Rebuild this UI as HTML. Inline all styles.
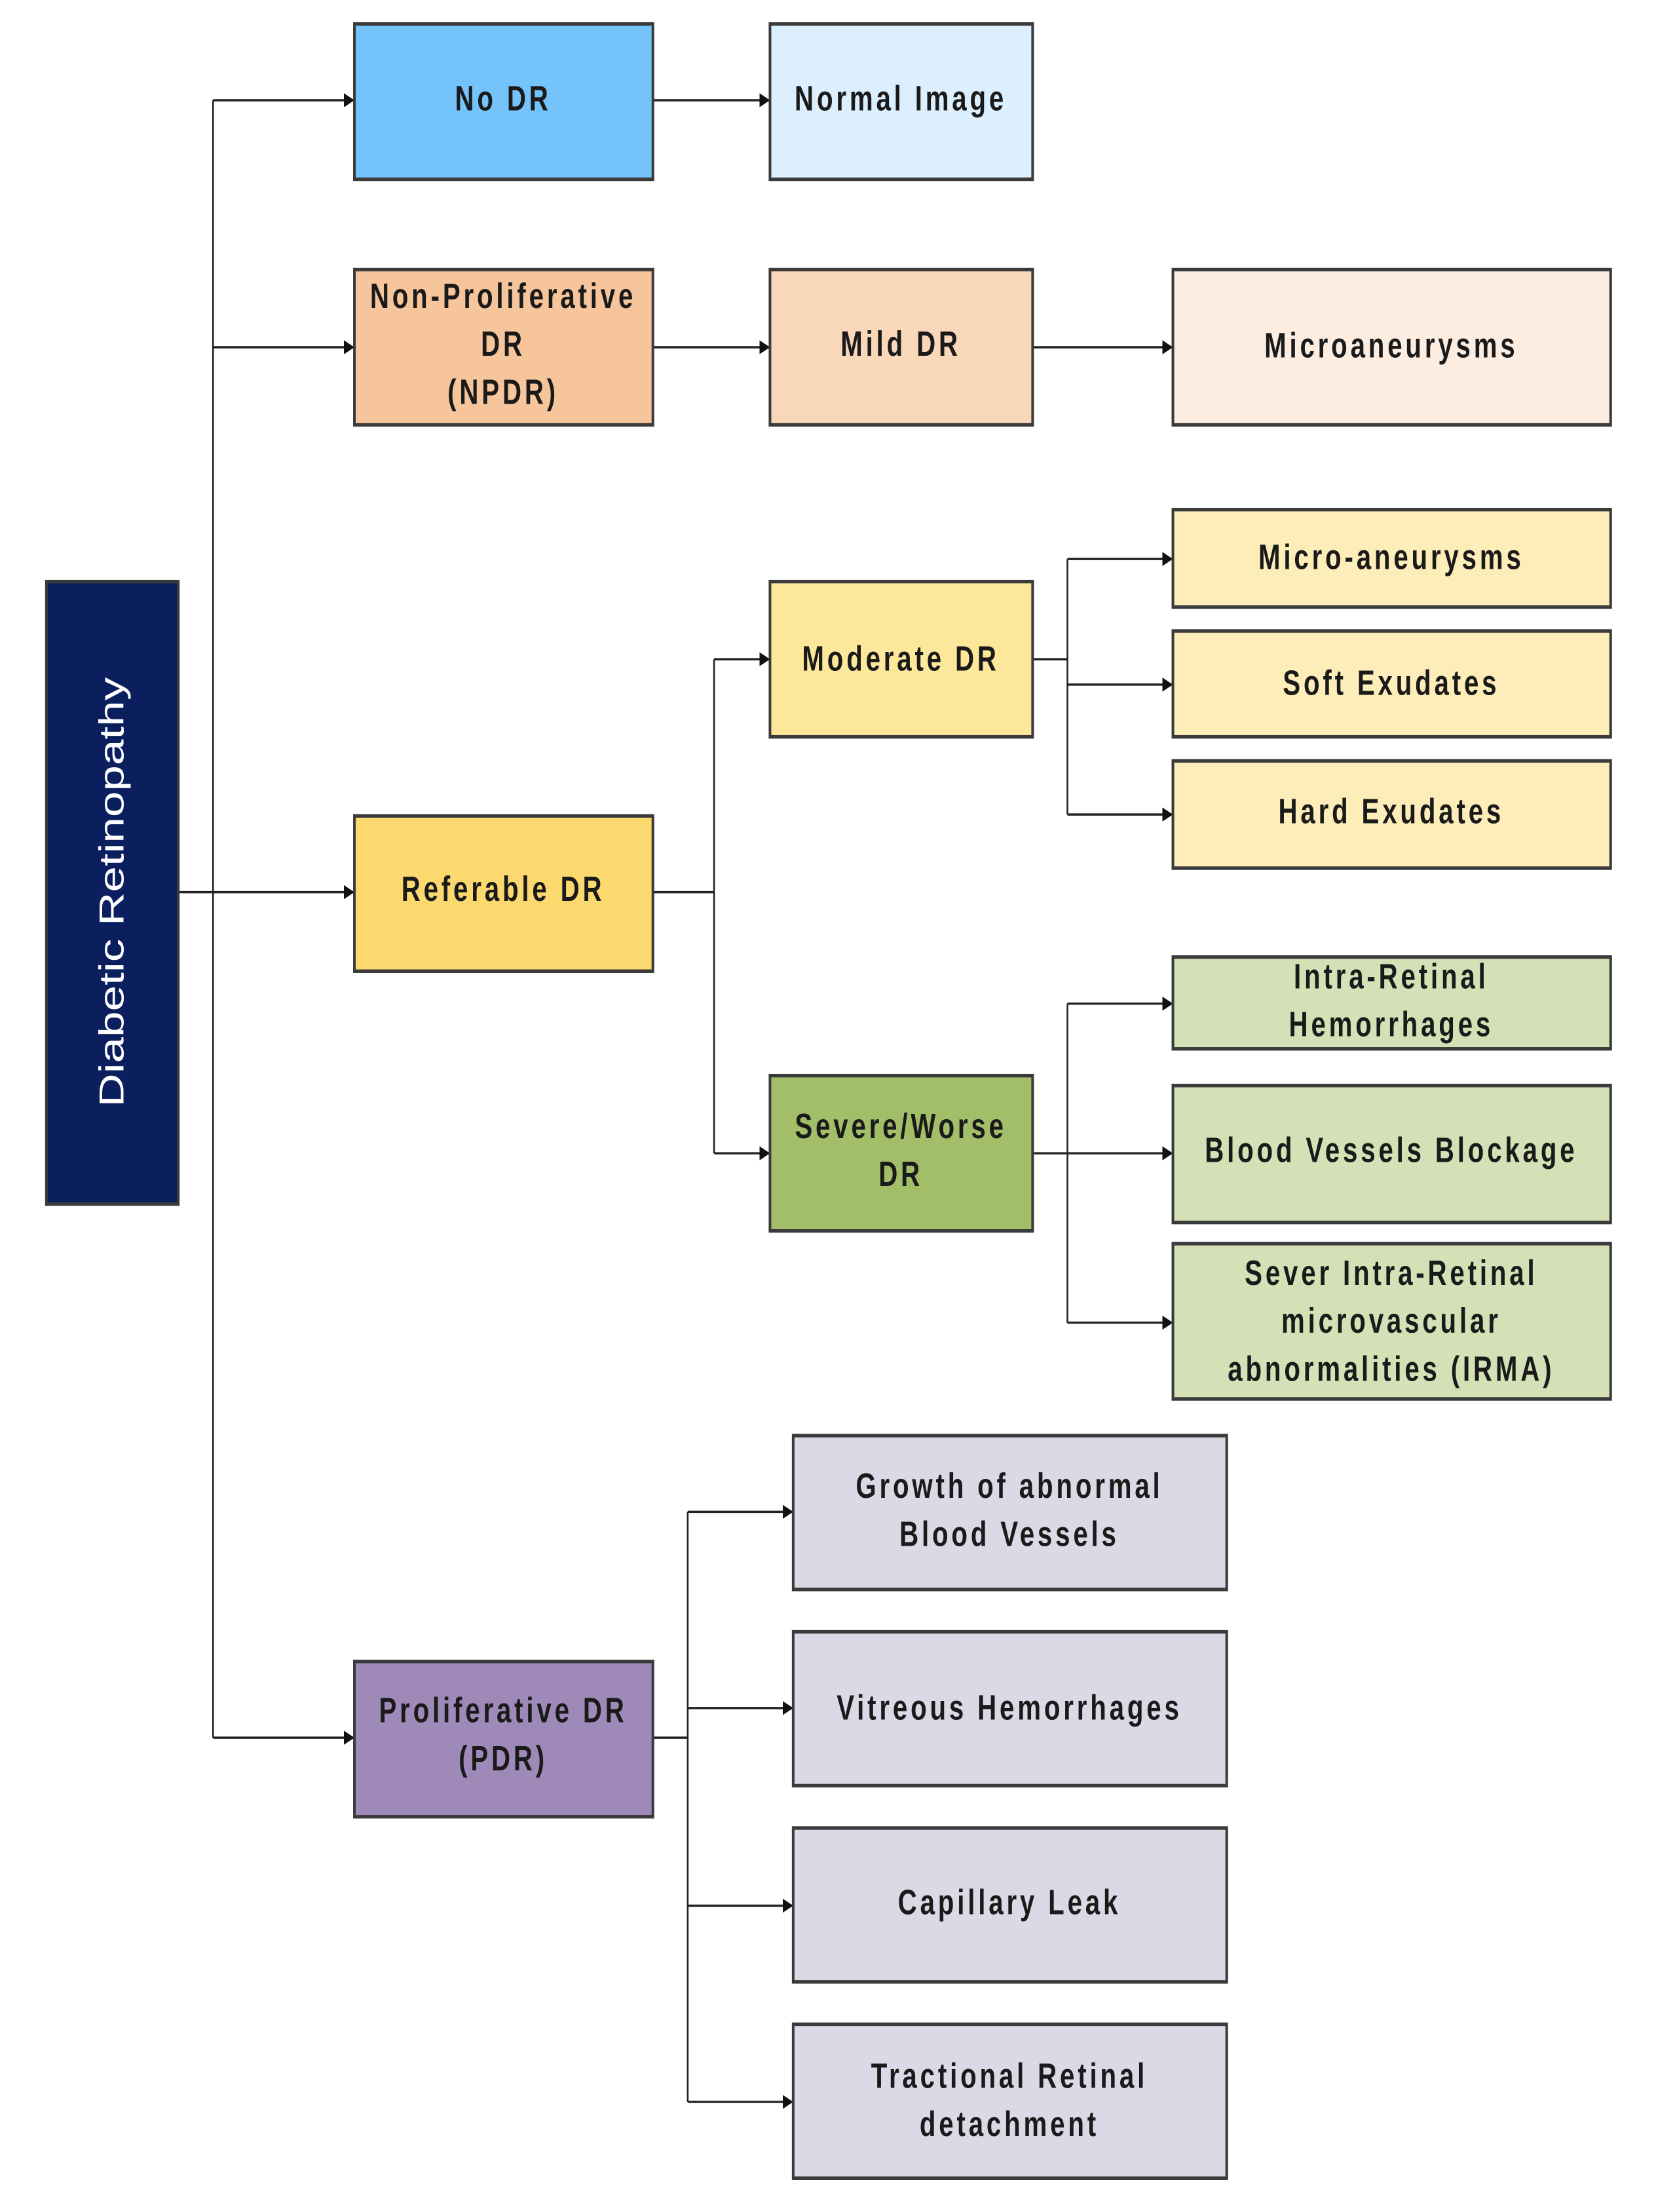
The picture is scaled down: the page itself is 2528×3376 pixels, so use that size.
<!DOCTYPE html>
<html><head><meta charset="utf-8"><style>
html,body{margin:0;padding:0;background:#fff;}
svg{display:block;}
text{font-family:"Liberation Sans",Arial,sans-serif;font-weight:bold;font-size:25px;fill:#1a1a1a;text-anchor:middle;dominant-baseline:central;letter-spacing:3px;}
</style></head><body>
<svg width="2528" height="3376" viewBox="0 0 1570 1567" preserveAspectRatio="none" xmlns="http://www.w3.org/2000/svg">
<defs>
<marker id="a" markerWidth="10" markerHeight="10" refX="9" refY="5" orient="auto" markerUnits="userSpaceOnUse"><path d="M0,0 L10,5 L0,10 z" fill="#111"/></marker>
</defs>
<g stroke="#222" stroke-width="1.6" fill="none">
<line x1="169" y1="632" x2="202" y2="632"/>
<line x1="202" y1="71" x2="202" y2="1231"/>
<line x1="202" y1="71" x2="335" y2="71" marker-end="url(#a)"/>
<line x1="202" y1="246" x2="335" y2="246" marker-end="url(#a)"/>
<line x1="202" y1="632" x2="335" y2="632" marker-end="url(#a)"/>
<line x1="202" y1="1231" x2="335" y2="1231" marker-end="url(#a)"/>
<line x1="619" y1="71" x2="729" y2="71" marker-end="url(#a)"/>
<line x1="619" y1="246" x2="729" y2="246" marker-end="url(#a)"/>
<line x1="979" y1="246" x2="1111" y2="246" marker-end="url(#a)"/>
<line x1="619" y1="632" x2="677" y2="632"/>
<line x1="677" y1="467" x2="677" y2="817"/>
<line x1="677" y1="467" x2="729" y2="467" marker-end="url(#a)"/>
<line x1="677" y1="817" x2="729" y2="817" marker-end="url(#a)"/>
<line x1="979" y1="467" x2="1012" y2="467"/>
<line x1="1012" y1="396" x2="1012" y2="577"/>
<line x1="1012" y1="396" x2="1111" y2="396" marker-end="url(#a)"/>
<line x1="1012" y1="485" x2="1111" y2="485" marker-end="url(#a)"/>
<line x1="1012" y1="577" x2="1111" y2="577" marker-end="url(#a)"/>
<line x1="979" y1="817" x2="1012" y2="817"/>
<line x1="1012" y1="711" x2="1012" y2="937"/>
<line x1="1012" y1="711" x2="1111" y2="711" marker-end="url(#a)"/>
<line x1="1012" y1="817" x2="1111" y2="817" marker-end="url(#a)"/>
<line x1="1012" y1="937" x2="1111" y2="937" marker-end="url(#a)"/>
<line x1="619" y1="1231" x2="652" y2="1231"/>
<line x1="652" y1="1071" x2="652" y2="1489"/>
<line x1="652" y1="1071" x2="751" y2="1071" marker-end="url(#a)"/>
<line x1="652" y1="1210" x2="751" y2="1210" marker-end="url(#a)"/>
<line x1="652" y1="1350" x2="751" y2="1350" marker-end="url(#a)"/>
<line x1="652" y1="1489" x2="751" y2="1489" marker-end="url(#a)"/>
</g>
<g stroke="#3a3a3a" stroke-width="2.5">
<rect x="44" y="412" width="125" height="441" fill="#0b1f5e"/>
<rect x="336" y="17" width="283" height="110" fill="#74c3fb"/>
<rect x="336" y="191" width="283" height="110" fill="#f7c59b"/>
<rect x="336" y="578" width="283" height="110" fill="#fcd96f"/>
<rect x="336" y="1177" width="283" height="110" fill="#9e89b8"/>
<rect x="730" y="17" width="249" height="110" fill="#dcefff"/>
<rect x="730" y="191" width="249" height="110" fill="#f9d7b9"/>
<rect x="730" y="412" width="249" height="110" fill="#fde79a"/>
<rect x="730" y="762" width="249" height="110" fill="#a3be69"/>
<rect x="1112" y="191" width="415" height="110" fill="#fdede0"/>
<rect x="1112" y="361" width="415" height="69" fill="#fdedb8"/>
<rect x="1112" y="447" width="415" height="75" fill="#fdedb8"/>
<rect x="1112" y="539" width="415" height="76" fill="#fdedb8"/>
<rect x="1112" y="678" width="415" height="65" fill="#d4e0b5"/>
<rect x="1112" y="769" width="415" height="97" fill="#d4e0b5"/>
<rect x="1112" y="881" width="415" height="110" fill="#d4e0b5"/>
<rect x="752" y="1017" width="411" height="109" fill="#ddd8e6"/>
<rect x="752" y="1156" width="411" height="109" fill="#ddd8e6"/>
<rect x="752" y="1295" width="411" height="109" fill="#ddd8e6"/>
<rect x="752" y="1434" width="411" height="109" fill="#ddd8e6"/>
</g>
<text transform="translate(106,632) rotate(-90)" style="fill:#fff;font-weight:normal;font-size:33px;letter-spacing:0">Diabetic Retinopathy</text>
<text x="477" y="70">No DR</text>
<text x="477" y="210">Non-Proliferative</text>
<text x="477" y="244">DR</text>
<text x="477" y="278">(NPDR)</text>
<text x="477" y="630">Referable DR</text>
<text x="477" y="1212">Proliferative DR</text>
<text x="477" y="1246">(PDR)</text>
<text x="854" y="70">Normal Image</text>
<text x="854" y="244">Mild DR</text>
<text x="854" y="467">Moderate DR</text>
<text x="854" y="798">Severe/Worse</text>
<text x="854" y="832">DR</text>
<text x="1319" y="245">Microaneurysms</text>
<text x="1319" y="395">Micro-aneurysms</text>
<text x="1319" y="484">Soft Exudates</text>
<text x="1319" y="575">Hard Exudates</text>
<text x="1319" y="692">Intra-Retinal</text>
<text x="1319" y="726">Hemorrhages</text>
<text x="1319" y="815">Blood Vessels  Blockage</text>
<text x="1319" y="902">Sever Intra-Retinal</text>
<text x="1319" y="936">microvascular</text>
<text x="1319" y="970">abnormalities (IRMA)</text>
<text x="957" y="1053">Growth of abnormal</text>
<text x="957" y="1087">Blood Vessels</text>
<text x="957" y="1210">Vitreous Hemorrhages</text>
<text x="957" y="1348">Capillary Leak</text>
<text x="957" y="1471">Tractional Retinal</text>
<text x="957" y="1505">detachment</text>
</svg>
</body></html>
